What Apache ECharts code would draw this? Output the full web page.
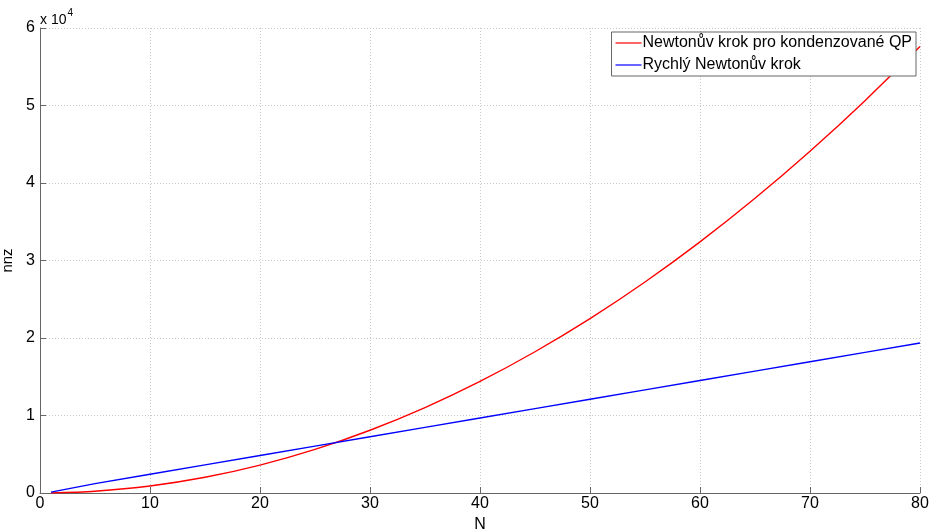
<!DOCTYPE html>
<html><head><meta charset="utf-8">
<script src="https://cdn.jsdelivr.net/npm/echarts@6/dist/echarts.min.js"></script>
<style>html,body{margin:0;padding:0;background:#fff}#c{width:932px;height:532px}</style>
</head><body><div id="c"></div>
<script>
const nValues = [1, 5, 10, 15, 20, 25, 30, 35, 40, 45, 50, 55, 60, 65, 70, 75, 80];
const redValues = [9, 225, 900, 2025, 3600, 5625, 8100, 11025, 14400, 18225, 22500, 27225, 32400, 38025, 44100, 50625, 57600];
const blueValues = [120, 1210, 2420, 3630, 4840, 6050, 7260, 8470, 9680, 10890, 12100, 13310, 14520, 15730, 16940, 18150, 19360];
const seriesNames = ['Newtonův krok pro kondenzované QP', 'Rychlý Newtonův krok'];
const xTicks = [0, 10, 20, 30, 40, 50, 60, 70, 80];
const yTicks = [0, 1, 2, 3, 4, 5, 6];

const font = '"Liberation Sans", Arial, sans-serif';
const chart = echarts.init(document.getElementById('c'));
const pair = (xs, ys) => xs.map((x, i) => [x, ys[i]]);
chart.setOption({
  animation: false,
  grid: { left: 40, right: 12, top: 28, bottom: 39, outerBoundsMode: 'none', containLabel: false },
  xAxis: {
    type: 'value', min: 0, max: 80, interval: 10,
    name: 'N', nameLocation: 'middle', nameGap: 20,
    nameTextStyle: { fontFamily: font, fontSize: 16, color: '#000' },
    axisLine: { show: true, lineStyle: { color: '#666' } },
    axisTick: { inside: true, length: 6, lineStyle: { color: '#666' } },
    axisLabel: { fontFamily: font, fontSize: 16, color: '#000', margin: 3,
      formatter: v => xTicks.includes(v) ? String(v) : '' },
    splitLine: { show: true, lineStyle: { color: '#c8c8c8', type: [1, 2] } }
  },
  yAxis: {
    type: 'value', min: 0, max: 60000, interval: 10000,
    name: 'nnz', nameLocation: 'middle', nameGap: 25, nameRotate: 90,
    nameTextStyle: { fontFamily: font, fontSize: 15, color: '#000' },
    axisLine: { show: true, lineStyle: { color: '#666' } },
    axisTick: { inside: true, length: 6, lineStyle: { color: '#666' } },
    axisLabel: { fontFamily: font, fontSize: 16, color: '#000', margin: 5,
      formatter: v => String(yTicks[Math.round(v / 10000)]) },
    splitLine: { show: true, lineStyle: { color: '#c8c8c8', type: [1, 2] } }
  },
  legend: {
    orient: 'vertical', right: 16, top: 32,
    backgroundColor: '#fff', borderColor: '#666', borderWidth: 1, borderRadius: 0,
    padding: [3, 4, 3, 4], itemGap: 6, itemWidth: 26, itemHeight: 1.2, icon: 'rect',
    textStyle: { fontFamily: font, fontSize: 16, color: '#000', padding: [0, 0, 0, -4] },
    data: seriesNames
  },
  graphic: [{
    type: 'text', left: 40, top: 8,
    style: {
      text: '{a|x 10}{b|4}',
      rich: {
        a: { fontFamily: font, fontSize: 14, fill: '#000', verticalAlign: 'bottom' },
        b: { fontFamily: font, fontSize: 10, fill: '#000', verticalAlign: 'top', padding: [0, 0, 9, 1] }
      }
    }
  }],
  series: [
    { name: seriesNames[0], type: 'line', data: pair(nValues, redValues), smooth: 0.3,
      symbol: 'none', lineStyle: { color: '#ff0000', width: 1.4 }, itemStyle: { color: '#ff0000' } },
    { name: seriesNames[1], type: 'line', data: pair(nValues, blueValues),
      symbol: 'none', lineStyle: { color: '#0000ff', width: 1.4 }, itemStyle: { color: '#0000ff' } }
  ]
});
</script></body></html>
